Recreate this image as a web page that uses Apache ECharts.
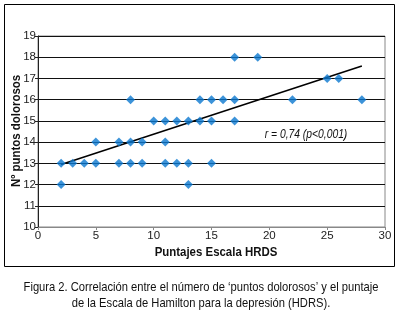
<!DOCTYPE html>
<html><head><meta charset="utf-8">
<script src="https://cdn.jsdelivr.net/npm/echarts@6/dist/echarts.min.js"></script>
<style>html,body{margin:0;padding:0;background:#fff}#c{width:400px;height:314px}</style>
</head><body><div id="c"></div>
<script>
const hrdsScores = [2,2,3,4,5,5,7,7,8,8,8,9,9,10,11,11,11,12,12,13,13,13,14,14,15,15,15,16,17,17,17,19,22,25,26,28];
const painPoints = [12,13,13,13,13,14,13,14,13,14,16,13,14,15,13,14,15,13,15,12,13,15,15,16,13,15,16,16,15,16,18,18,16,17,17,16];
const trendX = [2, 28];
const trendY = [12.94, 17.59];
const xTicks = [0,5,10,15,20,25,30];
const yTicks = [10,11,12,13,14,15,16,17,18,19];
const annotation = 'r = 0,74 (p<0,001)';
const xTitle = 'Puntajes Escala HRDS';
const yTitle = 'Nº puntos dolorosos';
const captionLines = ["Figura 2. Correlación entre el número de ‘puntos dolorosos’ y el puntaje", "de la Escala de Hamilton para la depresión (HDRS)."];

const FONT = '"Liberation Sans", Arial, sans-serif';
const NARROW = 0.86;
const chart = echarts.init(document.getElementById('c'), null, {renderer:'canvas'});
chart.setOption({
  animation:false,
  grid:{left:38, right:15, top:36, bottom:87, containLabel:false, outerBoundsMode:'none',
        show:true, borderColor:'#888', borderWidth:1, backgroundColor:'transparent'},
  xAxis:{type:'value', min:xTicks[0], max:xTicks[xTicks.length-1], interval:5,
    axisLine:{show:true, lineStyle:{color:'#888', width:1}},
    axisTick:{show:true, length:3, lineStyle:{color:'#888'}},
    axisLabel:{fontFamily:FONT, fontSize:11.5, color:'#222', margin:3},
    splitLine:{show:false}},
  yAxis:{type:'value', min:yTicks[0], max:yTicks[yTicks.length-1], interval:1,
    axisLine:{show:true, lineStyle:{color:'#222', width:1}},
    axisTick:{show:true, length:3, inside:false, lineStyle:{color:'#222'}},
    axisLabel:{fontFamily:FONT, fontSize:11.5, color:'#222', margin:2},
    splitLine:{show:true, lineStyle:{color:'#111', width:1}}},
  series:[
    {type:'scatter', data:hrdsScores.map((x,i)=>[x,painPoints[i]]), symbol:'diamond', symbolSize:9,
     itemStyle:{color:'#0b78d0'}, z:3},
    {type:'line', data:trendX.map((x,i)=>[x,trendY[i]]), symbol:'none', lineStyle:{color:'#000', width:1.6}, z:2}
  ],
  graphic:[
    {type:'rect', x:4.5, y:4.5, shape:{width:390, height:262}, style:{fill:'none', stroke:'#000', lineWidth:1}, silent:true},
    {type:'text', x:306, y:135, scaleX:NARROW, style:{text:annotation, font:'italic 12px '+FONT, fill:'#111', align:'center', verticalAlign:'middle'}},
    {type:'text', x:216, y:252, scaleX:0.88, style:{text:xTitle, font:'bold 13px '+FONT, fill:'#111', align:'center', verticalAlign:'middle'}},
    {type:'text', x:16, y:131, rotation:Math.PI/2, scaleX:0.88, style:{text:yTitle, font:'bold 13px '+FONT, fill:'#111', align:'center', verticalAlign:'middle'}},
    {type:'text', x:201, y:287, scaleX:NARROW, style:{text:captionLines[0], font:'13px '+FONT, fill:'#111', align:'center', verticalAlign:'middle'}},
    {type:'text', x:201, y:303, scaleX:NARROW, style:{text:captionLines[1], font:'13px '+FONT, fill:'#111', align:'center', verticalAlign:'middle'}}
  ]
});
</script></body></html>
